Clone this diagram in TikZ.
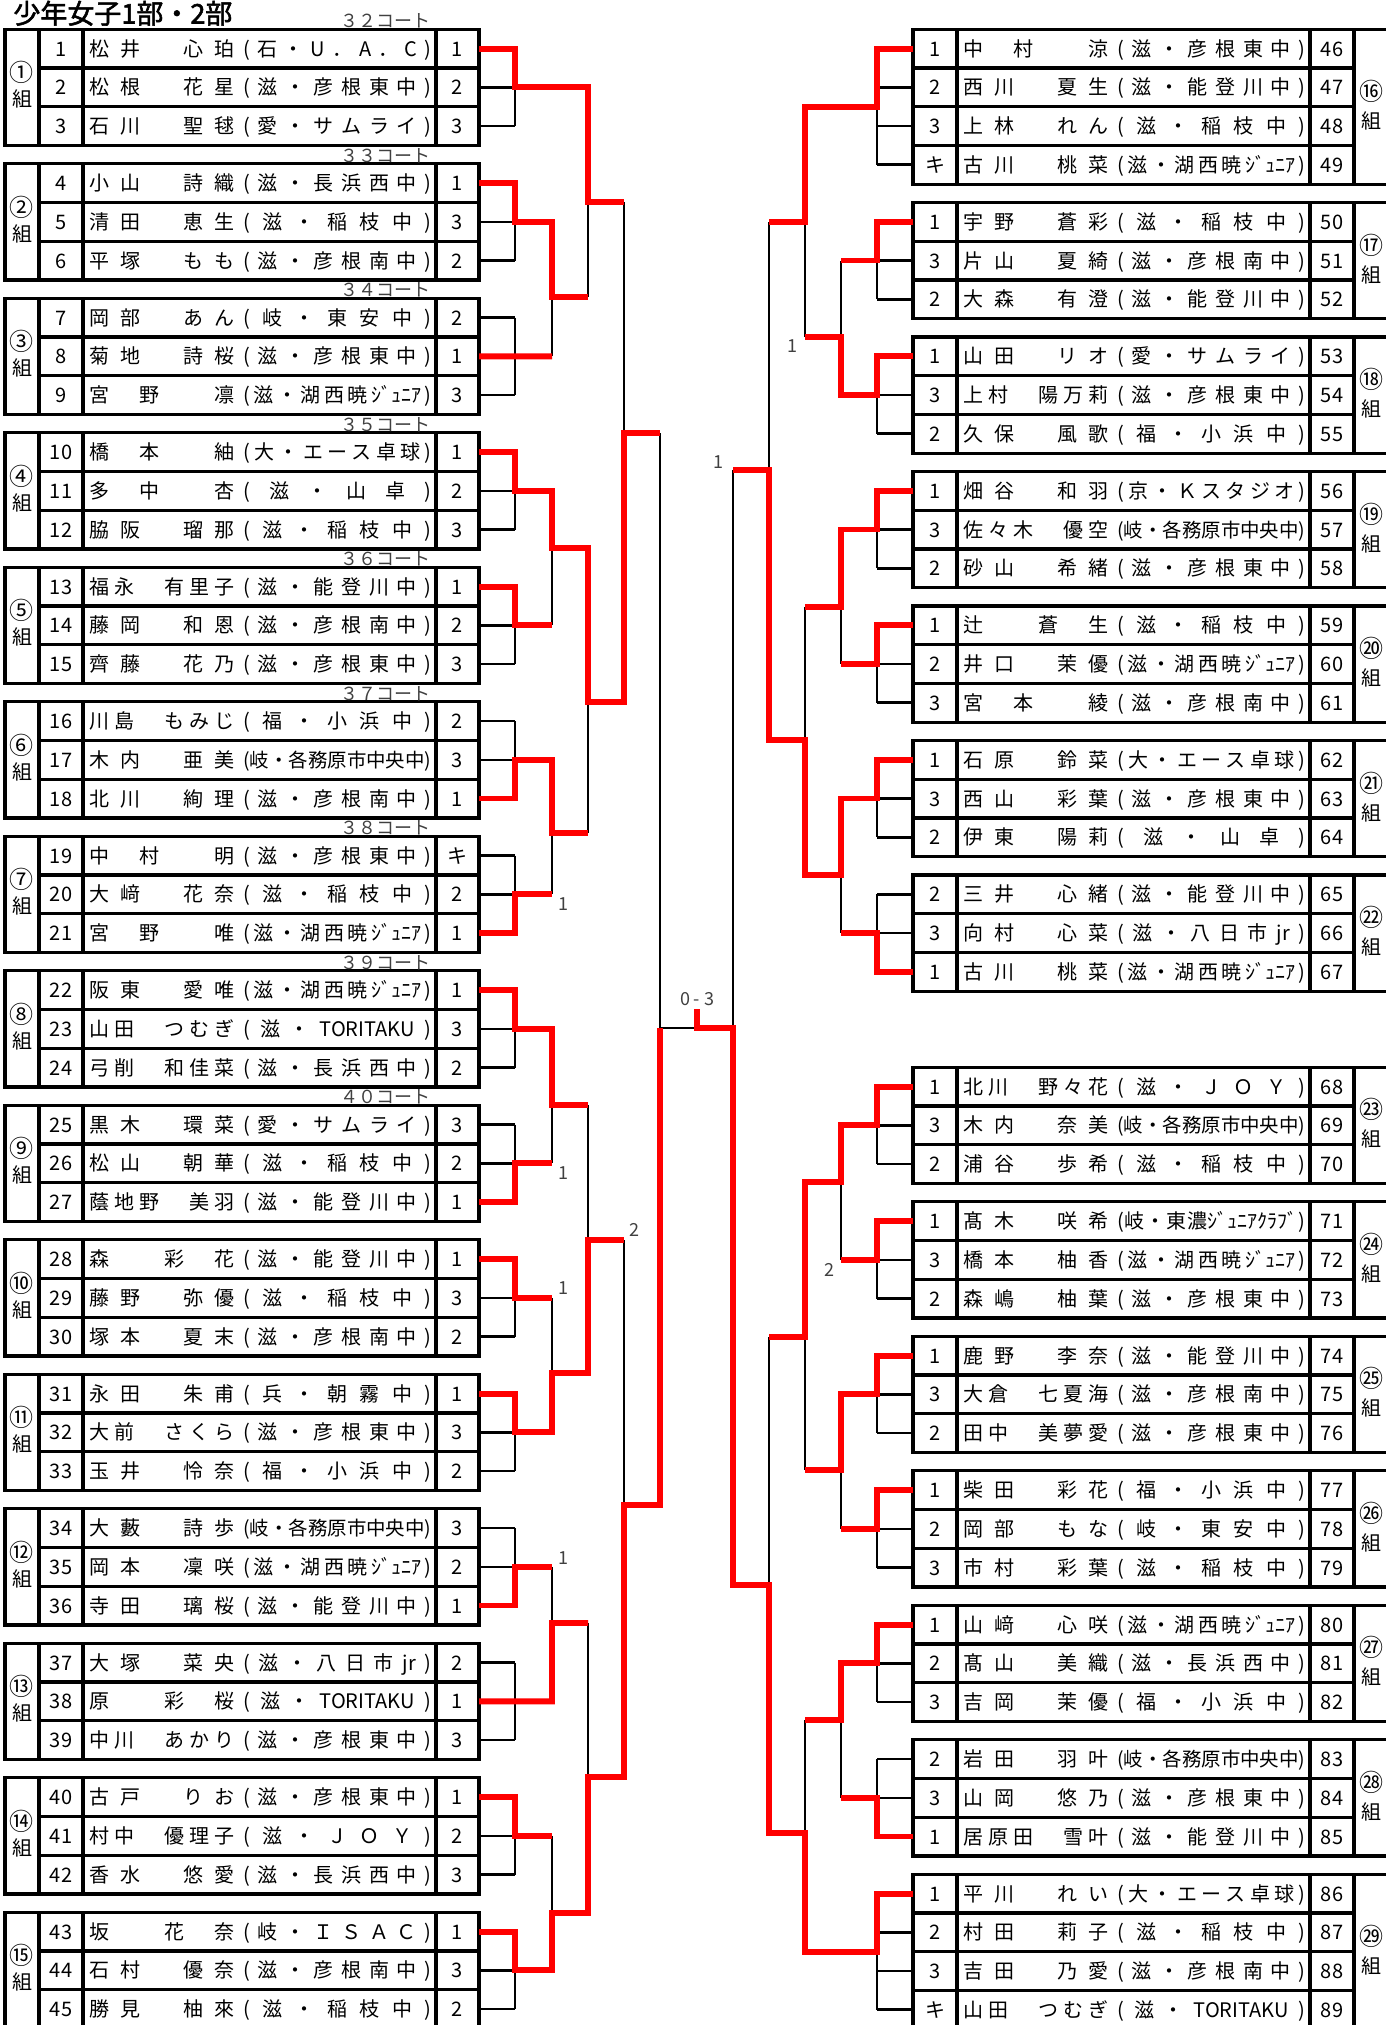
\documentclass[tikz,border=0pt]{standalone}
\usepackage{fontspec}
\setmainfont{Noto Sans CJK JP}[AutoFakeBold=2]
\usepackage{graphicx}
\definecolor{winred}{RGB}{255,0,0}

\makeatletter
\def\sp@end{\sp@end}
\def\sp@first#1{#1\sp@loop}
\def\sp@loop#1{\ifx\sp@end#1\else\hfil{#1}\expandafter\sp@loop\fi}
\newcommand\spreadto[2]{\hbox to #1{\expandafter\sp@first#2\sp@end}}
\newsavebox\fitbx
\newcommand\fitto[2]{\sbox\fitbx{#2}\ifdim\wd\fitbx>#1\relax\resizebox{#1}{!}{\usebox\fitbx}\else\spreadto{#1}{#2}\fi}
\newcommand\maru[1]{\scalebox{1.2}{\ifcase#1\or①\or②\or③\or④\or⑤\or⑥\or⑦\or⑧\or⑨\or⑩\or⑪\or⑫\or⑬\or⑭\or⑮\or⑯\or⑰\or⑱\or⑲\or⑳\or㉑\or㉒\or㉓\or㉔\or㉕\or㉖\or㉗\or㉘\or㉙\fi}}
\makeatother

\begin{document}
\begin{tikzpicture}[x=0.5pt,y=-0.5pt,
  tbl/.style={line width=1.6pt},
  lose/.style={line width=1.3pt},
  win/.style={winred,line width=2.9pt,line join=miter},
  txt/.style={inner sep=0pt,font=\fontsize{10pt}{12pt}\selectfont,text height=8.8pt,text depth=1.2pt},
  court/.style={inner sep=0pt,anchor=base east,font=\fontsize{9pt}{10pt}\selectfont,text=black!75},
  lab/.style={inner sep=0pt,font=\fontsize{9pt}{10pt}\selectfont,text=black!75,text height=6.6pt,text depth=0pt}]
\useasboundingbox (0,0) rectangle (1386,2025);
\clip (0,0) rectangle (1386,2025);

\node[anchor=base west,inner sep=0pt,font=\fontsize{13.5pt}{15pt}\selectfont\bfseries] (title) at (13,23.5) {少年女子1部・2部};

% left groups
\foreach \gi in {1,...,15}{
  \pgfmathsetmacro\ty{29.3+(\gi-1)*134.5}
  \draw[tbl] (5,\ty) rectangle (479,\ty+116.1);
  \draw[tbl] (39,\ty) -- (39,\ty+116.1) (83,\ty) -- (83,\ty+116.1) (436,\ty) -- (436,\ty+116.1)
    (39,\ty+38.7) -- (479,\ty+38.7) (39,\ty+77.4) -- (479,\ty+77.4);
  \node[txt] (gl\gi) at (22,\ty+45) {\maru{\gi}};
  \node[txt] (gk\gi) at (22,\ty+70) {組};
  \draw[lose] (515,\ty+19.35) -- (515,\ty+96.75);
}
\foreach \gi/\ct in {1/３２,2/３３,3/３４,4/３５,5/３６,6/３７,7/３８,8/３９,9/４０}
  \node[court] (ct\gi) at (431,{27.8+(\gi-1)*134.5}) {\ct コート};

\foreach \ri/\nm/\cl/\scr in {
  1/松井　心珀/(石・U．A．C)/1,
  2/松根　花星/(滋・彦根東中)/2,
  3/石川　聖毬/(愛・サムライ)/3,
  4/小山　詩織/(滋・長浜西中)/1,
  5/清田　恵生/(滋・稲枝中)/3,
  6/平塚　もも/(滋・彦根南中)/2,
  7/岡部　あん/(岐・東安中)/2,
  8/菊地　詩桜/(滋・彦根東中)/1,
  9/宮　野　　凛/(滋・湖西暁{ｼﾞｭﾆｱ})/3,
  10/橋　本　　紬/(大・エース卓球)/1,
  11/多　中　　杏/(滋・山卓)/2,
  12/脇阪　瑠那/(滋・稲枝中)/3,
  13/福永　有里子/(滋・能登川中)/1,
  14/藤岡　和恩/(滋・彦根南中)/2,
  15/齊藤　花乃/(滋・彦根東中)/3,
  16/川島　もみじ/(福・小浜中)/2,
  17/木内　亜美/(岐・各務原市中央中)/3,
  18/北川　絢理/(滋・彦根南中)/1,
  19/中　村　　明/(滋・彦根東中)/キ,
  20/大﨑　花奈/(滋・稲枝中)/2,
  21/宮　野　　唯/(滋・湖西暁{ｼﾞｭﾆｱ})/1,
  22/阪東　愛唯/(滋・湖西暁{ｼﾞｭﾆｱ})/1,
  23/山田　つむぎ/(滋・{TORITAKU})/3,
  24/弓削　和佳菜/(滋・長浜西中)/2,
  25/黒木　環菜/(愛・サムライ)/3,
  26/松山　朝華/(滋・稲枝中)/2,
  27/蔭地野　美羽/(滋・能登川中)/1,
  28/森　　彩　花/(滋・能登川中)/1,
  29/藤野　弥優/(滋・稲枝中)/3,
  30/塚本　夏末/(滋・彦根南中)/2,
  31/永田　朱甫/(兵・朝霧中)/1,
  32/大前　さくら/(滋・彦根東中)/3,
  33/玉井　怜奈/(福・小浜中)/2,
  34/大藪　詩歩/(岐・各務原市中央中)/3,
  35/岡本　凜咲/(滋・湖西暁{ｼﾞｭﾆｱ})/2,
  36/寺田　璃桜/(滋・能登川中)/1,
  37/大塚　菜央/(滋・八日市{jr})/2,
  38/原　　彩　桜/(滋・{TORITAKU})/1,
  39/中川　あかり/(滋・彦根東中)/3,
  40/古戸　りお/(滋・彦根東中)/1,
  41/村中　優理子/(滋・ＪＯＹ)/2,
  42/香水　悠愛/(滋・長浜西中)/3,
  43/坂　　花　奈/(岐・ＩＳＡＣ)/1,
  44/石村　優奈/(滋・彦根南中)/3,
  45/勝見　柚來/(滋・稲枝中)/2}{
  \pgfmathsetmacro\yy{48.65+floor((\ri-1)/3)*134.5+mod(\ri-1,3)*38.7}
  \node[txt] (no\ri) at (61,\yy) {\ri};
  \node[txt,anchor=west] (nm\ri) at (89,\yy) {\spreadto{72.5pt}{\nm}};
  \node[txt,anchor=west] (cl\ri) at (243,\yy) {\fitto{94pt}{\cl}};
  \node[txt] (sc\ri) at (457.5,\yy) {\scr};
  \coordinate (e\ri) at (479,\yy);
  \draw[lose] (e\ri) -- (515,\yy);
}

% right groups
\foreach \ty/\nr/\gi in {29.3/4/16,202.5/3/17,337/3/18,471.5/3/19,606/3/20,740.5/3/21,875/3/22,
    1067.3/3/23,1201.8/3/24,1336.3/3/25,1470.8/3/26,1605.3/3/27,1739.8/3/28,1874.3/4/29}{
  \pgfmathsetmacro\by{\ty+\nr*38.7}
  \pgfmathtruncatemacro\nn{\nr-1}
  \draw[tbl] (913,\ty) rectangle (1388,\by);
  \draw[tbl] (957,\ty) -- (957,\by) (1310,\ty) -- (1310,\by) (1354,\ty) -- (1354,\by);
  \foreach \kk in {1,...,\nn} \draw[tbl] (913,\ty+\kk*38.7) -- (1354,\ty+\kk*38.7);
  \node[txt] (gl\gi) at (1371,\ty+\nr*19.35-14) {\maru{\gi}};
  \node[txt] (gk\gi) at (1371,\ty+\nr*19.35+14) {組};
  \draw[lose] (877,\ty+19.35) -- (877,\by-19.35);
}

\foreach \ri/\rk/\nm/\cl in {
  46/1/中　村　　涼/(滋・彦根東中),
  47/2/西川　夏生/(滋・能登川中),
  48/3/上林　れん/(滋・稲枝中),
  49/キ/古川　桃菜/(滋・湖西暁{ｼﾞｭﾆｱ}),
  50/1/宇野　蒼彩/(滋・稲枝中),
  51/3/片山　夏綺/(滋・彦根南中),
  52/2/大森　有澄/(滋・能登川中),
  53/1/山田　リオ/(愛・サムライ),
  54/3/上村　陽万莉/(滋・彦根東中),
  55/2/久保　風歌/(福・小浜中),
  56/1/畑谷　和羽/(京・Ｋスタジオ),
  57/3/佐々木　優空/(岐・各務原市中央中),
  58/2/砂山　希緒/(滋・彦根東中),
  59/1/辻　　蒼　生/(滋・稲枝中),
  60/2/井口　茉優/(滋・湖西暁{ｼﾞｭﾆｱ}),
  61/3/宮　本　　綾/(滋・彦根南中),
  62/1/石原　鈴菜/(大・エース卓球),
  63/3/西山　彩葉/(滋・彦根東中),
  64/2/伊東　陽莉/(滋・山卓),
  65/2/三井　心緒/(滋・能登川中),
  66/3/向村　心菜/(滋・八日市{jr}),
  67/1/古川　桃菜/(滋・湖西暁{ｼﾞｭﾆｱ}),
  68/1/北川　野々花/(滋・ＪＯＹ),
  69/3/木内　奈美/(岐・各務原市中央中),
  70/2/浦谷　歩希/(滋・稲枝中),
  71/1/髙木　咲希/(岐・東濃{ｼﾞｭﾆｱｸﾗﾌﾞ}),
  72/3/橋本　柚香/(滋・湖西暁{ｼﾞｭﾆｱ}),
  73/2/森嶋　柚葉/(滋・彦根東中),
  74/1/鹿野　李奈/(滋・能登川中),
  75/3/大倉　七夏海/(滋・彦根南中),
  76/2/田中　美夢愛/(滋・彦根東中),
  77/1/柴田　彩花/(福・小浜中),
  78/2/岡部　もな/(岐・東安中),
  79/3/市村　彩葉/(滋・稲枝中),
  80/1/山﨑　心咲/(滋・湖西暁{ｼﾞｭﾆｱ}),
  81/2/髙山　美織/(滋・長浜西中),
  82/3/吉岡　茉優/(福・小浜中),
  83/2/岩田　羽叶/(岐・各務原市中央中),
  84/3/山岡　悠乃/(滋・彦根東中),
  85/1/居原田　雪叶/(滋・能登川中),
  86/1/平川　れい/(大・エース卓球),
  87/2/村田　莉子/(滋・稲枝中),
  88/3/吉田　乃愛/(滋・彦根南中),
  89/キ/山田　つむぎ/(滋・{TORITAKU})}{
  \pgfmathsetmacro\yy{\ri<50 ? 48.65+(\ri-46)*38.7 : (\ri<68 ? 221.85+floor((\ri-50)/3)*134.5+mod(\ri-50,3)*38.7 : (\ri<86 ? 1086.65+floor((\ri-68)/3)*134.5+mod(\ri-68,3)*38.7 : 1893.65+(\ri-86)*38.7))}
  \node[txt] (rk\ri) at (935,\yy) {\rk};
  \node[txt,anchor=west] (nm\ri) at (963,\yy) {\spreadto{72.5pt}{\nm}};
  \node[txt,anchor=west] (cl\ri) at (1117,\yy) {\fitto{94pt}{\cl}};
  \node[txt] (no\ri) at (1332,\yy) {\ri};
  \coordinate (e\ri) at (913,\yy);
  \draw[lose] (e\ri) -- (877,\yy);
}

% black joins
\draw[lose] (552,221.85) -- (552,356.35) (588,87.35) -- (588,296.7)
  (552,490.85) -- (552,625.35) (552,759.85) -- (552,894.35) (588,548.3) -- (588,833)
  (624,202) -- (624,701.7)
  (552,1028.85) -- (552,1163.35) (552,1297.85) -- (552,1432.35) (588,1105) -- (588,1373)
  (552,1566.85) -- (552,1701.35) (552,1835.85) -- (552,1970.35) (588,1623) -- (588,1913)
  (624,1240) -- (624,1776.7) (660,433) -- (660,1505) (660,1028) -- (697,1028);
\draw[lose] (841,260.55) -- (841,395.05) (805,106.7) -- (805,336.7)
  (841,529.55) -- (841,664.05) (841,798.55) -- (841,933.05) (805,606.7) -- (805,875)
  (769,221.7) -- (769,740)
  (841,1125.35) -- (841,1259.85) (841,1394.35) -- (841,1528.85) (805,1181.7) -- (805,1470)
  (841,1663.35) -- (841,1797.85) (805,1720) -- (805,1951.7)
  (769,1336.7) -- (769,1833) (733,470) -- (733,1585);

% winners, left
\draw[win] (e1) -| (515,87.35) -- (588,87.35) -- (588,202) -- (624,202);
\draw[win] (e4) -| (515,221.85) -- (552,221.85) -- (552,296.7) -- (588,296.7);
\draw[win] (e8) -- (552,356.35);
\draw[win] (e10) -| (515,490.85) -- (552,490.85) -- (552,548.3) -- (588,548.3) -- (588,701.7) -- (624,701.7) -- (624,433) -- (660,433);
\draw[win] (e13) -| (515,625.35) -- (552,625.35);
\draw[win] (e18) -| (515,759.85) -- (552,759.85) -- (552,833) -- (588,833);
\draw[win] (e21) -| (515,894.35) -- (552,894.35);
\draw[win] (e22) -| (515,1028.85) -- (552,1028.85) -- (552,1105) -- (588,1105);
\draw[win] (e27) -| (515,1163.35) -- (552,1163.35);
\draw[win] (e28) -| (515,1297.85) -- (552,1297.85);
\draw[win] (e31) -| (515,1432.35) -- (552,1432.35) -- (552,1373) -- (588,1373) -- (588,1240) -- (624,1240);
\draw[win] (e36) -| (515,1566.85) -- (552,1566.85);
\draw[win] (e38) -- (552,1701.35) -- (552,1623) -- (588,1623);
\draw[win] (e40) -| (515,1835.85) -- (552,1835.85);
\draw[win] (e43) -| (515,1970.35) -- (552,1970.35) -- (552,1913) -- (588,1913) -- (588,1776.7) -- (624,1776.7) -- (624,1505) -- (660,1505) -- (660,1028);
% winners, right
\draw[win] (e46) -| (877,106.7) -- (805,106.7) -- (805,221.7) -- (769,221.7);
\draw[win] (e50) -| (877,260.55) -- (841,260.55);
\draw[win] (e53) -| (877,395.05) -- (841,395.05) -- (841,336.7) -- (805,336.7);
\draw[win] (e56) -| (877,529.55) -- (841,529.55) -- (841,606.7) -- (805,606.7);
\draw[win] (e59) -| (877,664.05) -- (841,664.05);
\draw[win] (e62) -| (877,798.55) -- (841,798.55) -- (841,875) -- (805,875) -- (805,740) -- (769,740) -- (769,470) -- (733,470);
\draw[win] (e67) -| (877,933.05) -- (841,933.05);
\draw[win] (e68) -| (877,1125.35) -- (841,1125.35) -- (841,1181.7) -- (805,1181.7) -- (805,1336.7) -- (769,1336.7);
\draw[win] (e71) -| (877,1259.85) -- (841,1259.85);
\draw[win] (e74) -| (877,1394.35) -- (841,1394.35) -- (841,1470) -- (805,1470);
\draw[win] (e77) -| (877,1528.85) -- (841,1528.85);
\draw[win] (e80) -| (877,1663.35) -- (841,1663.35) -- (841,1720) -- (805,1720);
\draw[win] (e85) -| (877,1797.85) -- (841,1797.85);
\draw[win] (e86) -| (877,1951.7) -- (805,1951.7) -- (805,1833) -- (769,1833) -- (769,1585) -- (733,1585) -- (733,1028) -- (697,1028) -- (697,1009);

% game counts
\node[lab] (lb21) at (563,904) {1};
\node[lab] (lb27) at (563,1173) {1};
\node[lab] (lb28) at (563,1288) {1};
\node[lab] (lb36) at (563,1558) {1};
\node[lab] (lb31) at (634,1230) {2};
\node[lab] (lb53) at (792,346) {1};
\node[lab] (lb46) at (718,462) {1};
\node[lab] (lb71) at (829,1270) {2};
\node[lab] (final) at (697,999) {\spreadto{17pt}{0-3}};
\end{tikzpicture}
\end{document}
